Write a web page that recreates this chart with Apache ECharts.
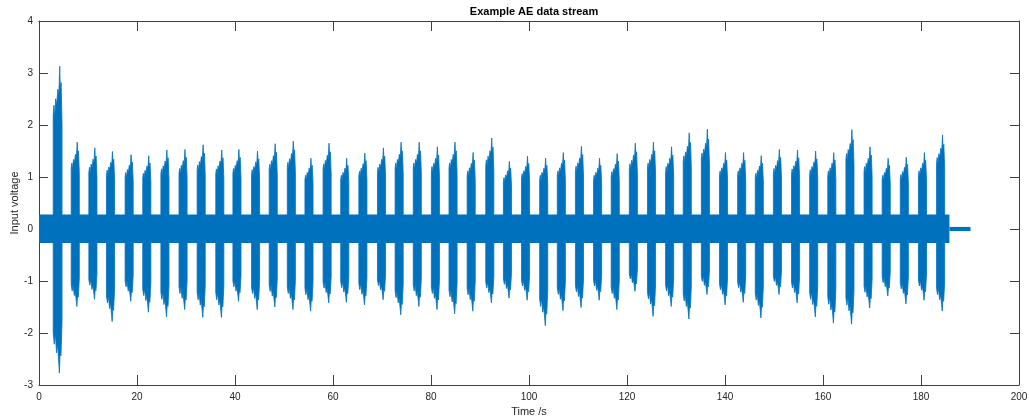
<!DOCTYPE html>
<html>
<head>
<meta charset="utf-8">
<script src="https://cdn.jsdelivr.net/npm/echarts@6/dist/echarts.min.js"></script>
<style>
  html, body { margin: 0; padding: 0; background: #fff; }
  #chart { width: 1029px; height: 419px; }
</style>
</head>
<body>
<div id="chart"></div>
<script>
// Acoustic-emission bursts: time of each burst (s), its highest and lowest excursion (V)
const burstTime = [3.8, 7.4, 11.0, 14.6, 18.4, 22.0, 25.7, 29.4, 33.1, 36.9,
  40.4, 44.2, 47.8, 51.5, 55.1, 58.8, 62.4, 66.1, 69.9, 73.5,
  77.2, 80.9, 84.5, 88.2, 92.0, 95.6, 99.3, 103.0, 106.6, 110.3,
  114.0, 117.6, 121.3, 125.0, 128.7, 132.3, 136.0, 139.7, 143.4, 147.0,
  150.7, 154.4, 158.1, 161.8, 165.5, 169.2, 172.9, 176.6, 180.3, 184.0];
const burstTop = [3.13, 1.67, 1.56, 1.49, 1.43, 1.41, 1.52, 1.53, 1.62, 1.52,
  1.53, 1.50, 1.64, 1.69, 1.36, 1.65, 1.36, 1.46, 1.56, 1.67,
  1.67, 1.58, 1.67, 1.47, 1.75, 1.30, 1.40, 1.36, 1.47, 1.59,
  1.36, 1.45, 1.65, 1.67, 1.58, 1.85, 1.92, 1.47, 1.47, 1.41,
  1.53, 1.52, 1.50, 1.47, 1.91, 1.58, 1.36, 1.38, 1.47, 1.81];
const burstBottom = [-2.77, -1.49, -1.35, -1.78, -1.39, -1.60, -1.69, -1.55, -1.70, -1.70,
  -1.39, -1.55, -1.50, -1.55, -1.58, -1.42, -1.41, -1.46, -1.36, -1.65,
  -1.49, -1.55, -1.63, -1.58, -1.42, -1.33, -1.37, -1.86, -1.57, -1.51,
  -1.37, -1.55, -1.20, -1.68, -1.49, -1.73, -1.26, -1.46, -1.41, -1.71,
  -1.26, -1.42, -1.69, -1.81, -1.83, -1.52, -1.29, -1.44, -1.37, -1.58];

// Background noise floor: start (s), end (s), upper and lower level (V)
const noiseStart = [0, 185.8];
const noiseEnd = [185.8, 190.1];
const noiseHigh = [0.28, 0.04];
const noiseLow = [-0.27, -0.04];

const xTicks = [0, 20, 40, 60, 80, 100, 120, 140, 160, 180, 200];
const yTicks = [-3, -2, -1, 0, 1, 2, 3, 4];

const BLUE = '#0072BD';
const AXIS = '#404040';
const FONT = 'Liberation Sans, Arial, sans-serif';

// Outline of a burst envelope: [fraction of burst width, fraction of peak]
const UPPER = [[-0.5, 0.70], [-0.42, 0.76], [-0.34, 0.68], [-0.22, 0.80], [-0.1, 0.76],
  [0.02, 0.86], [0.14, 0.82], [0.24, 1.0], [0.3, 0.86], [0.4, 0.90], [0.5, 0.64]];
const LOWER = [[-0.5, 0.72], [-0.38, 0.80], [-0.26, 0.72], [-0.12, 0.86], [0.0, 0.80],
  [0.12, 0.92], [0.2, 1.0], [0.28, 0.86], [0.38, 0.88], [0.5, 0.64]];

const bursts = burstTime.map((t, i) => [t, burstTop[i], burstBottom[i]]);
const noise = noiseStart.map((s, i) => [s, noiseEnd[i], noiseHigh[i], noiseLow[i]]);

const chart = echarts.init(document.getElementById('chart'), null, { renderer: 'canvas' });

const tickFont = { fontFamily: FONT, fontSize: 10, color: '#262626' };
const frameAxis = {
  axisLine: { show: true, onZero: false, lineStyle: { color: AXIS, width: 1 } },
  axisLabel: { show: false }, splitLine: { show: false }
};

chart.setOption({
  animation: false,
  title: {
    text: 'Example AE data stream',
    left: 529, top: 1, textAlign: 'center',
    textStyle: { fontFamily: FONT, fontSize: 11, fontWeight: 'bold', color: '#000' }
  },
  grid: { left: 39, right: 10, top: 21, bottom: 34, containLabel: false, outerBoundsMode: 'none' },
  xAxis: [{
    type: 'value', min: 0, max: 200, interval: 20,
    name: 'Time /s', nameLocation: 'middle', nameGap: 21, nameMoveOverlap: false,
    nameTextStyle: { fontFamily: FONT, fontSize: 11, color: '#262626' },
    axisLine: { show: true, onZero: false, lineStyle: { color: AXIS, width: 1 } },
    axisTick: { show: true, inside: true, length: 10, lineStyle: { color: AXIS } },
    axisLabel: Object.assign({ margin: 7, formatter: v => xTicks.includes(v) ? String(v) : '' }, tickFont),
    splitLine: { show: false }
  }, Object.assign({
    type: 'value', min: 0, max: 200, interval: 20, position: 'top',
    axisTick: { show: true, inside: true, length: 10, lineStyle: { color: AXIS } }
  }, frameAxis)],
  yAxis: [{
    type: 'value', min: -3, max: 4, interval: 1,
    name: 'Input voltage', nameLocation: 'middle', nameGap: 19, nameRotate: 90, nameMoveOverlap: false,
    nameTextStyle: { fontFamily: FONT, fontSize: 11, color: '#262626' },
    axisLine: { show: true, onZero: false, lineStyle: { color: AXIS, width: 1 } },
    axisTick: { show: true, inside: true, length: 9, lineStyle: { color: AXIS } },
    axisLabel: Object.assign({ margin: 6, formatter: v => yTicks.includes(v) ? String(v) : '' }, tickFont),
    splitLine: { show: false }
  }, Object.assign({
    type: 'value', min: -3, max: 4, interval: 1, position: 'right',
    axisTick: { show: true, inside: true, length: 9, lineStyle: { color: AXIS } }
  }, frameAxis)],
  series: [{
    name: 'noise',
    type: 'custom',
    xAxisIndex: 0, yAxisIndex: 0,
    clip: true,
    data: noise,
    encode: { x: [0, 1], y: [2, 3] },
    renderItem: (params, api) => {
      const a = api.coord([api.value(0), api.value(2)]);
      const b = api.coord([api.value(1), api.value(3)]);
      return { type: 'rect', shape: { x: a[0], y: a[1], width: b[0] - a[0], height: b[1] - a[1] }, style: { fill: BLUE } };
    }
  }, {
    name: 'bursts',
    type: 'custom',
    xAxisIndex: 0, yAxisIndex: 0,
    clip: true,
    data: bursts,
    encode: { x: 0, y: [1, 2] },
    renderItem: (params, api) => {
      const t = api.value(0), top = api.value(1), bot = api.value(2);
      const w = params.dataIndex === 0 ? 1.8 : 1.65;
      const up = UPPER.map(([f, h]) => api.coord([t + f * w, h * top]));
      const lo = LOWER.slice().reverse().map(([f, h]) => api.coord([t + f * w, h * bot]));
      return {
        type: 'polygon',
        shape: { points: up.concat(lo) },
        style: { fill: BLUE, stroke: BLUE, lineWidth: 0.8 }
      };
    }
  }]
});
</script>
</body>
</html>
